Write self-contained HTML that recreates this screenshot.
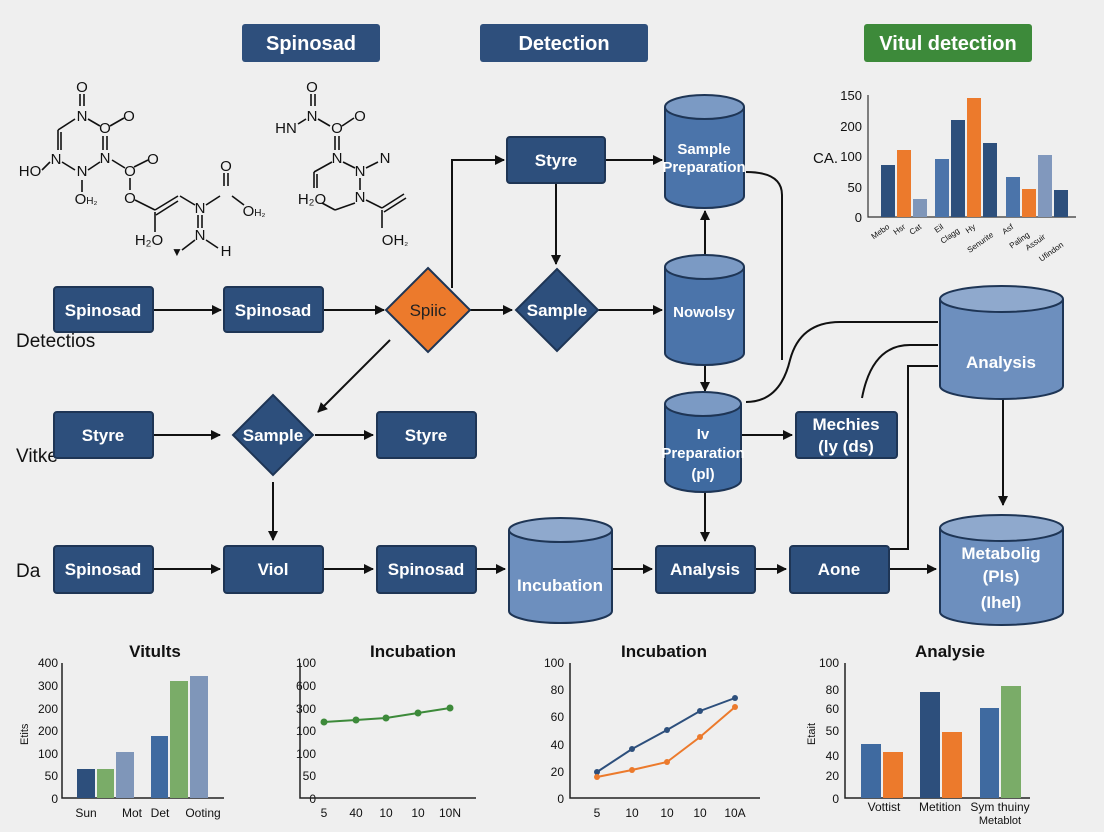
<!DOCTYPE html>
<html><head><meta charset="utf-8"><style>
html,body{margin:0;padding:0;background:#efefef;}
svg{display:block;font-family:"Liberation Sans",sans-serif;}
</style></head><body>
<svg width="1104" height="832" viewBox="0 0 1104 832" xmlns="http://www.w3.org/2000/svg">
<defs>
<marker id="a" markerWidth="10" markerHeight="10" refX="9" refY="5" orient="auto" markerUnits="userSpaceOnUse"><path d="M0,0 L10,5 L0,10 z" fill="#111"/></marker>
</defs>
<rect width="1104" height="832" fill="#efefef"/>
<rect x="242" y="24" width="138" height="38" rx="3" fill="#2e4f7c"/>
<text x="311" y="50" fill="#fff" font-size="20" font-weight="bold" text-anchor="middle">Spinosad</text>
<rect x="480" y="24" width="168" height="38" rx="3" fill="#2e4f7c"/>
<text x="564" y="50" fill="#fff" font-size="20" font-weight="bold" text-anchor="middle">Detection</text>
<rect x="864" y="24" width="168" height="38" rx="3" fill="#3d8a3a"/>
<text x="948" y="50" fill="#fff" font-size="20" font-weight="bold" text-anchor="middle">Vitul detection</text>

<g stroke="#111" stroke-width="1.6" fill="none">
<line x1="80" y1="94" x2="80" y2="106"/><line x1="84" y1="94" x2="84" y2="106"/>
<line x1="75" y1="119" x2="58" y2="130"/><line x1="58" y1="130" x2="58" y2="150"/><line x1="61" y1="132" x2="61" y2="150"/>
<line x1="88" y1="119" x2="100" y2="126"/><line x1="110" y1="126" x2="124" y2="118"/>
<line x1="103" y1="136" x2="103" y2="150"/><line x1="107" y1="136" x2="107" y2="150"/>
<line x1="62" y1="162" x2="75" y2="170"/><line x1="88" y1="170" x2="100" y2="162"/>
<line x1="42" y1="170" x2="50" y2="162"/><line x1="82" y1="180" x2="82" y2="192"/>
<line x1="112" y1="160" x2="125" y2="168"/><line x1="134" y1="167" x2="148" y2="160"/>
<line x1="130" y1="178" x2="130" y2="190"/><line x1="135" y1="200" x2="155" y2="210"/>
<line x1="155" y1="210" x2="178" y2="196"/><line x1="156" y1="215" x2="178" y2="201"/>
<line x1="180" y1="196" x2="195" y2="205"/><line x1="206" y1="205" x2="220" y2="196"/>
<line x1="224" y1="173" x2="224" y2="186"/><line x1="228" y1="173" x2="228" y2="186"/>
<line x1="232" y1="196" x2="244" y2="205"/>
<line x1="198" y1="215" x2="198" y2="228"/><line x1="202" y1="215" x2="202" y2="228"/>
<line x1="206" y1="240" x2="218" y2="248"/><line x1="195" y1="240" x2="182" y2="250"/>
<line x1="155" y1="212" x2="155" y2="232"/>
<line x1="311" y1="94" x2="311" y2="106"/><line x1="315" y1="94" x2="315" y2="106"/>
<line x1="298" y1="124" x2="306" y2="119"/><line x1="318" y1="119" x2="330" y2="126"/><line x1="342" y1="126" x2="354" y2="118"/>
<line x1="335" y1="136" x2="335" y2="150"/><line x1="339" y1="136" x2="339" y2="150"/>
<line x1="332" y1="162" x2="314" y2="172"/><line x1="314" y1="172" x2="314" y2="188"/><line x1="317" y1="174" x2="317" y2="188"/>
<line x1="343" y1="162" x2="355" y2="168"/><line x1="366" y1="168" x2="378" y2="162"/>
<line x1="360" y1="178" x2="360" y2="190"/><line x1="355" y1="203" x2="335" y2="210"/><line x1="322" y1="203" x2="335" y2="210"/>
<line x1="366" y1="200" x2="382" y2="208"/><line x1="382" y1="208" x2="404" y2="194"/><line x1="384" y1="212" x2="406" y2="198"/>
<line x1="382" y1="210" x2="382" y2="228"/>
</g>
<g font-size="15" fill="#111" text-anchor="middle">
<text x="82" y="92">O</text><text x="82" y="121">N</text><text x="105" y="133">O</text><text x="129" y="121">O</text>
<text x="105" y="163">N</text><text x="56" y="164">N</text><text x="82" y="176">N</text><text x="30" y="176">HO</text>
<text x="86" y="204">O<tspan font-size="10">H₂</tspan></text><text x="130" y="176">O</text><text x="153" y="164">O</text><text x="130" y="203">O</text>
<text x="200" y="213">N</text><text x="226" y="171">O</text><text x="254" y="216">O<tspan font-size="10">H₂</tspan></text>
<text x="200" y="240">N</text><text x="226" y="256">H</text><text x="149" y="245">H₂O</text><text x="177" y="256" font-size="12">▼</text>
<text x="312" y="92">O</text><text x="286" y="133">HN</text><text x="312" y="121">N</text><text x="337" y="133">O</text><text x="360" y="121">O</text>
<text x="337" y="163">N</text><text x="360" y="176">N</text><text x="385" y="163">N</text><text x="360" y="202">N</text>
<text x="312" y="204">H₂O</text><text x="395" y="245">OH<tspan font-size="10">₂</tspan></text>
</g>

<g font-size="19" fill="#111"><text x="16" y="347">Detectios</text><text x="16" y="462">Vitke</text><text x="16" y="577">Da</text></g>

<g stroke="#111" stroke-width="2" fill="none">
<line x1="153" y1="310" x2="221" y2="310" marker-end="url(#a)"/>
<line x1="323" y1="310" x2="384" y2="310" marker-end="url(#a)"/>
<line x1="470" y1="310" x2="512" y2="310" marker-end="url(#a)"/>
<line x1="598" y1="310" x2="662" y2="310" marker-end="url(#a)"/>
<polyline points="452,288 452,160 504,160" marker-end="url(#a)"/>
<line x1="556" y1="183" x2="556" y2="264" marker-end="url(#a)"/>
<line x1="605" y1="160" x2="662" y2="160" marker-end="url(#a)"/>
<line x1="705" y1="255" x2="705" y2="211" marker-end="url(#a)"/>
<path d="M746,172 Q782,172 782,195 L782,360"/>
<line x1="705" y1="365" x2="705" y2="391" marker-end="url(#a)"/>
<line x1="390" y1="340" x2="318" y2="412" marker-end="url(#a)"/>
<line x1="153" y1="435" x2="220" y2="435" marker-end="url(#a)"/>
<line x1="315" y1="435" x2="373" y2="435" marker-end="url(#a)"/>
<line x1="273" y1="482" x2="273" y2="540" marker-end="url(#a)"/>
<line x1="153" y1="569" x2="220" y2="569" marker-end="url(#a)"/>
<line x1="323" y1="569" x2="373" y2="569" marker-end="url(#a)"/>
<line x1="476" y1="569" x2="505" y2="569" marker-end="url(#a)"/>
<line x1="612" y1="569" x2="652" y2="569" marker-end="url(#a)"/>
<line x1="755" y1="569" x2="786" y2="569" marker-end="url(#a)"/>
<line x1="889" y1="569" x2="936" y2="569" marker-end="url(#a)"/>
<line x1="741" y1="435" x2="792" y2="435" marker-end="url(#a)"/>
<line x1="705" y1="492" x2="705" y2="541" marker-end="url(#a)"/>
<path d="M746,402 Q780,402 790,360 Q800,322 840,322 L938,322"/>
<path d="M862,398 Q872,345 910,345 L938,345"/>
<polyline points="890,549 908,549 908,366 938,366"/>
<line x1="1003" y1="398" x2="1003" y2="505" marker-end="url(#a)"/>
</g>

<g stroke="#1e3555" stroke-width="2" fill="#2d4f7c">
<rect x="54" y="287" width="99" height="45" rx="3"/>
<rect x="224" y="287" width="99" height="45" rx="3"/>
<rect x="507" y="137" width="98" height="46" rx="3"/>
<rect x="54" y="412" width="99" height="46" rx="3"/>
<rect x="377" y="412" width="99" height="46" rx="3"/>
<rect x="796" y="412" width="101" height="46" rx="3"/>
<rect x="54" y="546" width="99" height="47" rx="3"/>
<rect x="224" y="546" width="99" height="47" rx="3"/>
<rect x="377" y="546" width="99" height="47" rx="3"/>
<rect x="656" y="546" width="99" height="47" rx="3"/>
<rect x="790" y="546" width="99" height="47" rx="3"/>
<polygon points="557,269 598,310 557,351 516,310"/>
<polygon points="273,395 313,435 273,475 233,435"/>
</g>
<polygon points="428,268 470,310 428,352 386,310" fill="#ec7a2c" stroke="#1e3555" stroke-width="2"/>

<g stroke="#1e3555" stroke-width="2">
<path d="M665,107 V196 A39.5,12 0 0 0 744,196 V107" fill="#4b74aa"/><ellipse cx="704.5" cy="107" rx="39.5" ry="12" fill="#7b9ac4"/>
<path d="M665,267 V353 A39.5,12 0 0 0 744,353 V267" fill="#4b74aa"/><ellipse cx="704.5" cy="267" rx="39.5" ry="12" fill="#7b9ac4"/>
<path d="M665,404 V480 A38,12 0 0 0 741,480 V404" fill="#3f6aa0"/><ellipse cx="703" cy="404" rx="38" ry="12" fill="#7b9ac4"/>
<path d="M509,530 V611 A51.5,12 0 0 0 612,611 V530" fill="#6d8fbe"/><ellipse cx="560.5" cy="530" rx="51.5" ry="12" fill="#8fa9cd"/>
<path d="M940,299 V386 A61.5,13 0 0 0 1063,386 V299" fill="#6d8fbe"/><ellipse cx="1001.5" cy="299" rx="61.5" ry="13" fill="#8fa9cd"/>
<path d="M940,528 V612 A61.5,13 0 0 0 1063,612 V528" fill="#6d8fbe"/><ellipse cx="1001.5" cy="528" rx="61.5" ry="13" fill="#8fa9cd"/>
</g>

<g fill="#fff" font-size="17" font-weight="bold" text-anchor="middle">
<text x="103" y="316">Spinosad</text><text x="273" y="316">Spinosad</text>
<text x="428" y="316" fill="#222" font-weight="normal">Spiic</text>
<text x="557" y="316">Sample</text><text x="556" y="166">Styre</text>
<text x="704" y="154" font-size="15">Sample</text><text x="704" y="172" font-size="15">Preparation</text>
<text x="704" y="317" font-size="15">Nowolsy</text>
<text x="103" y="441">Styre</text><text x="273" y="441">Sample</text><text x="426" y="441">Styre</text>
<text x="703" y="439" font-size="15">Iv</text><text x="703" y="458" font-size="15">Preparation</text><text x="703" y="479" font-size="15">(pl)</text>
<text x="846" y="430">Mechies</text><text x="846" y="452">(ly (ds)</text>
<text x="103" y="575">Spinosad</text><text x="273" y="575">Viol</text><text x="426" y="575">Spinosad</text>
<text x="560" y="591">Incubation</text><text x="705" y="575">Analysis</text><text x="839" y="575">Aone</text>
<text x="1001" y="368">Analysis</text>
<text x="1001" y="559">Metabolig</text><text x="1001" y="582">(Pls)</text><text x="1001" y="608">(Ihel)</text>
</g>

<g font-size="13" fill="#111" text-anchor="end">
<text x="862" y="100">150</text><text x="862" y="131">200</text><text x="862" y="161">100</text><text x="862" y="192">50</text><text x="862" y="222">0</text>
</g>
<text x="813" y="163" font-size="15" fill="#111">CA.</text>
<polyline points="868,95 868,217 1076,217" stroke="#333" stroke-width="1.2" fill="none"/>
<rect x="881" y="165" width="14" height="52" fill="#2d4f7c"/>
<rect x="897" y="150" width="14" height="67" fill="#ec7a2c"/>
<rect x="913" y="199" width="14" height="18" fill="#7f96b9"/>
<rect x="935" y="159" width="14" height="58" fill="#4b74aa"/>
<rect x="951" y="120" width="14" height="97" fill="#2d4f7c"/>
<rect x="967" y="98" width="14" height="119" fill="#ec7a2c"/>
<rect x="983" y="143" width="14" height="74" fill="#2d4f7c"/>
<rect x="1006" y="177" width="14" height="40" fill="#4b74aa"/>
<rect x="1022" y="189" width="14" height="28" fill="#ec7a2c"/>
<rect x="1038" y="155" width="14" height="62" fill="#8198bd"/>
<rect x="1054" y="190" width="14" height="27" fill="#2d4f7c"/>
<g font-size="8" fill="#111" text-anchor="end">
<text transform="translate(890,228) rotate(-35)">Mebo</text><text transform="translate(906,228) rotate(-35)">Hsr</text><text transform="translate(922,228) rotate(-35)">Cat</text>
<text transform="translate(944,228) rotate(-35)">Eil</text><text transform="translate(960,232) rotate(-35)">Clagg</text><text transform="translate(976,228) rotate(-35)">Hy</text><text transform="translate(994,236) rotate(-35)">Senurite</text>
<text transform="translate(1014,228) rotate(-35)">Asf</text><text transform="translate(1030,236) rotate(-35)">Paling</text><text transform="translate(1046,238) rotate(-35)">Assuir</text><text transform="translate(1064,246) rotate(-35)">Ufindon</text>
</g>

<text x="155" y="657" font-size="17" font-weight="bold" fill="#111" text-anchor="middle">Vitults</text>
<g font-size="12" fill="#111" text-anchor="end">
<text x="58" y="667">400</text><text x="58" y="690">300</text><text x="58" y="713">200</text><text x="58" y="735">200</text><text x="58" y="758">100</text><text x="58" y="780">50</text><text x="58" y="803">0</text>
</g>
<text transform="translate(28,745) rotate(-90)" font-size="11" fill="#111">Etits</text>
<polyline points="62,663 62,798 224,798" stroke="#222" stroke-width="1.5" fill="none"/>
<rect x="77" y="769" width="18" height="29" fill="#2d4f7c"/>
<rect x="97" y="769" width="17" height="29" fill="#7aac68"/>
<rect x="116" y="752" width="18" height="46" fill="#7f96b9"/>
<rect x="151" y="736" width="17" height="62" fill="#3f6aa0"/>
<rect x="170" y="681" width="18" height="117" fill="#7aac68"/>
<rect x="190" y="676" width="18" height="122" fill="#7f96b9"/>
<g font-size="12" fill="#111" text-anchor="middle"><text x="86" y="817">Sun</text><text x="132" y="817">Mot</text><text x="160" y="817">Det</text><text x="203" y="817">Ooting</text></g>

<text x="413" y="657" font-size="17" font-weight="bold" fill="#111" text-anchor="middle">Incubation</text>
<g font-size="12" fill="#111" text-anchor="end">
<text x="316" y="667">100</text><text x="316" y="690">600</text><text x="316" y="713">300</text><text x="316" y="735">100</text><text x="316" y="758">100</text><text x="316" y="780">50</text><text x="316" y="803">0</text>
</g>
<polyline points="300,663 300,798 476,798" stroke="#222" stroke-width="1.5" fill="none"/>
<polyline points="324,722 356,720 386,718 418,713 450,708" stroke="#3d8a3a" stroke-width="2" fill="none"/>
<g fill="#3d8a3a"><circle cx="324" cy="722" r="3.5"/><circle cx="356" cy="720" r="3.5"/><circle cx="386" cy="718" r="3.5"/><circle cx="418" cy="713" r="3.5"/><circle cx="450" cy="708" r="3.5"/></g>
<g font-size="12" fill="#111" text-anchor="middle"><text x="324" y="817">5</text><text x="356" y="817">40</text><text x="386" y="817">10</text><text x="418" y="817">10</text><text x="450" y="817">10N</text></g>

<text x="664" y="657" font-size="17" font-weight="bold" fill="#111" text-anchor="middle">Incubation</text>
<g font-size="12" fill="#111" text-anchor="end">
<text x="564" y="667">100</text><text x="564" y="694">80</text><text x="564" y="721">60</text><text x="564" y="749">40</text><text x="564" y="776">20</text><text x="564" y="803">0</text>
</g>
<polyline points="570,663 570,798 760,798" stroke="#222" stroke-width="1.5" fill="none"/>
<polyline points="597,772 632,749 667,730 700,711 735,698" stroke="#2d4f7c" stroke-width="2" fill="none"/>
<polyline points="597,777 632,770 667,762 700,737 735,707" stroke="#ec7a2c" stroke-width="2" fill="none"/>
<g fill="#2d4f7c"><circle cx="597" cy="772" r="3"/><circle cx="632" cy="749" r="3"/><circle cx="667" cy="730" r="3"/><circle cx="700" cy="711" r="3"/><circle cx="735" cy="698" r="3"/></g>
<g fill="#ec7a2c"><circle cx="597" cy="777" r="3"/><circle cx="632" cy="770" r="3"/><circle cx="667" cy="762" r="3"/><circle cx="700" cy="737" r="3"/><circle cx="735" cy="707" r="3"/></g>
<g font-size="12" fill="#111" text-anchor="middle"><text x="597" y="817">5</text><text x="632" y="817">10</text><text x="667" y="817">10</text><text x="700" y="817">10</text><text x="735" y="817">10A</text></g>

<text x="950" y="657" font-size="17" font-weight="bold" fill="#111" text-anchor="middle">Analysie</text>
<g font-size="12" fill="#111" text-anchor="end">
<text x="839" y="667">100</text><text x="839" y="694">80</text><text x="839" y="713">60</text><text x="839" y="735">50</text><text x="839" y="760">40</text><text x="839" y="780">20</text><text x="839" y="803">0</text>
</g>
<text transform="translate(815,745) rotate(-90)" font-size="11" fill="#111">Etait</text>
<polyline points="845,663 845,798 1030,798" stroke="#222" stroke-width="1.5" fill="none"/>
<rect x="861" y="744" width="20" height="54" fill="#3f6aa0"/>
<rect x="883" y="752" width="20" height="46" fill="#ec7a2c"/>
<rect x="920" y="692" width="20" height="106" fill="#2d4f7c"/>
<rect x="942" y="732" width="20" height="66" fill="#ec7a2c"/>
<rect x="980" y="708" width="19" height="90" fill="#3f6aa0"/>
<rect x="1001" y="686" width="20" height="112" fill="#7aac68"/>
<g font-size="12" fill="#111" text-anchor="middle"><text x="884" y="811">Vottist</text><text x="940" y="811">Metition</text><text x="1000" y="811">Sym thuiny</text><text x="1000" y="824" font-size="11">Metablot</text></g>
</svg>
</body></html>
